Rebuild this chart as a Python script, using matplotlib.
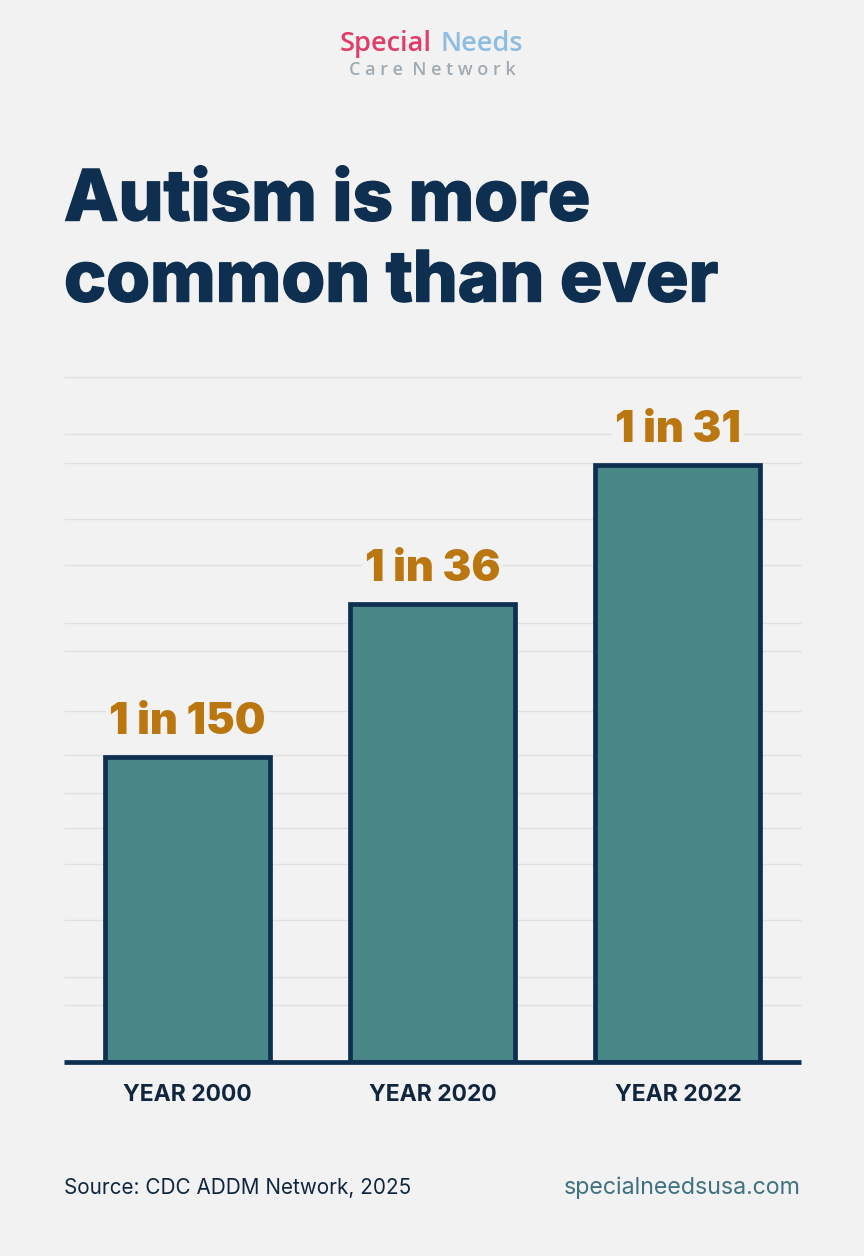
import matplotlib
matplotlib.use('Agg')
import matplotlib.pyplot as plt
import matplotlib.patheffects as pe

W, H = 864, 1256

years = ['YEAR 2000', 'YEAR 2020', 'YEAR 2022']
rate_labels = ['1 in 150', '1 in 36', '1 in 31']
# bar heights as drawn in the picture (not proportional to the rates)
bar_heights = [305, 458, 597]
grid_levels = [57, 85, 142, 198, 234, 269, 307, 351, 411, 439, 497, 543, 599, 628, 685]

BG = '#f2f2f2'
NAVY = '#0f2f50'
TEAL = '#498686'
GOLD = '#bb770f'

fig = plt.figure(figsize=(W / 100, H / 100), dpi=100, facecolor=BG)

# axes covers the chart area, x in pixels from the left edge of the plot
ax = fig.add_axes([64 / W, 1 - 1062 / H, (801 - 64) / W, 685 / H])
ax.set_xlim(0, 737)
ax.set_ylim(0, 685)
ax.set_facecolor('none')

ax.hlines(grid_levels, 0, 737, color='#e0e0e0', lw=1.0, zorder=1, clip_on=False)

xpos = [123, 368.5, 614]
ax.bar(xpos, bar_heights, width=165, color=TEAL, edgecolor=NAVY, linewidth=3.4, zorder=3)

for x, h, lab in zip(xpos, bar_heights, rate_labels):
    ax.text(x, h + 14, lab, ha='center', va='bottom', fontsize=31, fontweight='black',
            family='Inter', color=GOLD, zorder=2,
            bbox=dict(facecolor=BG, edgecolor='none', pad=2))

for s in ['top', 'left', 'right']:
    ax.spines[s].set_visible(False)
ax.spines['bottom'].set_color(NAVY)
ax.spines['bottom'].set_linewidth(3.4)
ax.spines['bottom'].set_capstyle('butt')
ax.spines['bottom'].set_zorder(5)
ax.set_yticks([])
ax.set_xticks(xpos)
ax.set_xticklabels(years, fontsize=16.5, fontweight='bold', family='Inter', color='#10263f')
ax.tick_params(axis='x', length=0, pad=16)

# logo
fig.text(432 / W, 1 - 44 / H, 'Special', ha='right', va='center', fontsize=19.5,
         family='Open Sans', fontweight='semibold', color='#e23c68')
fig.text(441 / W, 1 - 44 / H, 'Needs', ha='left', va='center', fontsize=19.5,
         family='Open Sans', fontweight='semibold', color='#8dbde2')
fig.text(432 / W, 1 - 70 / H, 'C a r e  N e t w o r k', ha='center', va='center', fontsize=13,
         family='Open Sans', fontweight='semibold', color='#a0abb4')

# title
stroke = [pe.withStroke(linewidth=1.0, foreground=NAVY)]
fig.text(64 / W, 1 - 202 / H, 'Autism is more', ha='left', va='center', fontsize=51,
         family='Inter', fontweight='extra bold', color=NAVY, path_effects=stroke)
fig.text(64 / W, 1 - 283 / H, 'common than ever', ha='left', va='center', fontsize=51,
         family='Inter', fontweight='extra bold', color=NAVY, path_effects=stroke)

# footer
fig.text(64 / W, 1 - 1188 / H, 'Source: CDC ADDM Network, 2025', ha='left', va='center',
         fontsize=14.9, family='Inter', color='#10263f')
fig.text(801 / W, 1 - 1188 / H, 'specialneedsusa.com', ha='right', va='center',
         fontsize=16.7, family='Inter', color='#3f7280')

fig.savefig('out.png', dpi=100, facecolor=BG)
